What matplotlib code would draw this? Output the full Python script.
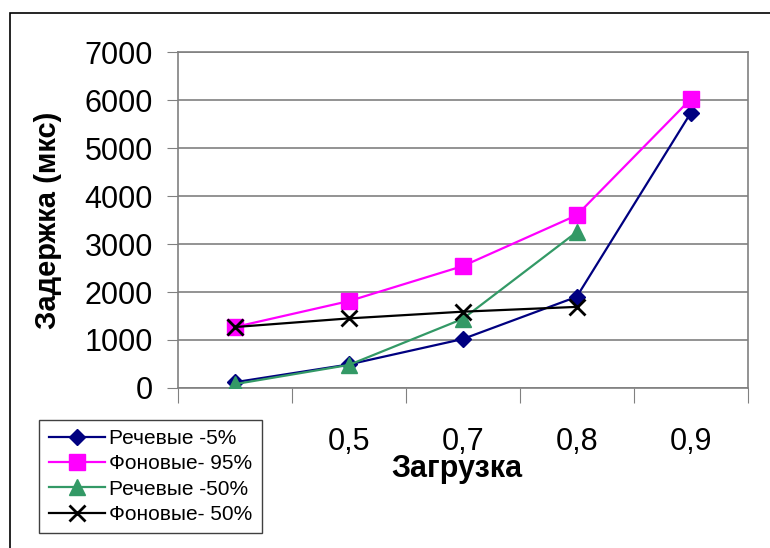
import numpy as np
import matplotlib
matplotlib.use("Agg")
import matplotlib.pyplot as plt
from matplotlib.patches import Rectangle

plt.rcParams['font.family'] = ['Liberation Sans', 'DejaVu Sans']

loads = ["0,3", "0,5", "0,7", "0,8", "0,9"]
speech_5 = [120, 490, 1020, 1900, 5730]
bg_95 = [1270, 1810, 2540, 3600, 6020]
speech_50 = [80, 480, 1440, 3250, np.nan]
bg_50 = [1270, 1450, 1590, 1690, np.nan]

fig = plt.figure(figsize=(7.7, 5.48), dpi=100)
ax = fig.add_axes([0.231, 0.292, 0.74, 0.613])

x = np.arange(len(loads))
ax.plot(x, speech_5, color='#000080', lw=1.6, marker='D', ms=8, label='Речевые -5%', zorder=3)
ax.plot(x, bg_95, color='#FF00FF', lw=1.6, marker='s', ms=11, label='Фоновые- 95%', zorder=3)
ax.plot(x, speech_50, color='#339966', lw=1.6, marker='^', ms=11, label='Речевые -50%', zorder=3)
ax.plot(x, bg_50, color='black', lw=1.6, marker='x', ms=11, mew=2, label='Фоновые- 50%', zorder=4)

ax.set_xlim(-0.5, len(loads) - 0.5)
ax.set_ylim(0, 7000)
ax.set_yticks(np.arange(0, 7001, 1000))
ax.yaxis.grid(True, color='#808080', lw=1.2)
ax.set_axisbelow(True)

# ticks between categories, labels centred on categories
ax.set_xticks(np.arange(-0.5, len(loads), 1))
ax.set_xticklabels([])
ax.set_xticks(x, minor=True)
ax.set_xticklabels(loads, minor=True)
ax.tick_params(axis='x', which='major', length=11, color='#808080', direction='out')
ax.tick_params(axis='x', which='minor', length=0, pad=28, labelsize=22)
ax.tick_params(axis='y', length=8, color='#808080', pad=10, labelsize=22)

for s in ax.spines.values():
    s.set_color('#808080')
    s.set_linewidth(1.2)

ax.set_ylabel('Задержка (мкс)', fontsize=21, fontweight='bold', labelpad=16)
ax.set_xlabel('Загрузка', fontsize=22, fontweight='bold', va='center')
ax.xaxis.set_label_coords(0.489, -0.242)

leg = fig.legend(loc='lower left', bbox_to_anchor=(0.051, 0.027), borderaxespad=0,
                 fontsize=15, fancybox=False, framealpha=1, edgecolor='#404040',
                 handlelength=2.7, labelspacing=0.3, handletextpad=0.2,
                 borderpad=0.45)
leg.get_frame().set_linewidth(1.0)

fig.patches.append(Rectangle((0.013, -0.1), 1.2, 1.077, transform=fig.transFigure,
                             fill=False, edgecolor='black', lw=1.2))

fig.savefig('out.png', dpi=100)
